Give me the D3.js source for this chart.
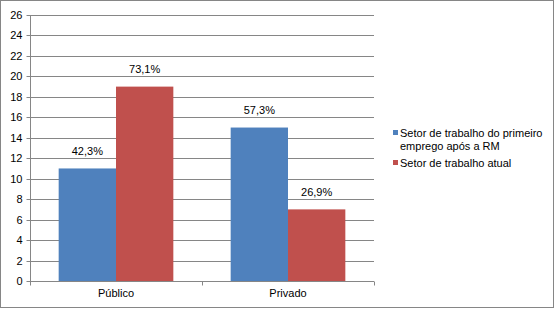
<!DOCTYPE html>
<html>
<head>
<meta charset="utf-8">
<script src="https://cdn.jsdelivr.net/npm/d3@7"></script>
<style>
  html, body { margin: 0; padding: 0; background: #fff; }
  svg { display: block; font-family: "Liberation Sans", Arial, sans-serif; }
</style>
</head>
<body>
<svg id="chart" width="555" height="309"></svg>
<script>
const categories = ["Público", "Privado"];
const seriesNames = ["Setor de trabalho do primeiro emprego após a RM", "Setor de trabalho atual"];
const seriesFirst = [11, 15];
const seriesCurrent = [19, 7];
const labelsFirst = ["42,3%", "57,3%"];
const labelsCurrent = ["73,1%", "26,9%"];
const yTicks = [0, 2, 4, 6, 8, 10, 12, 14, 16, 18, 20, 22, 24, 26];
const colors = ["#4F81BD", "#C0504D"];

(function () {
const svg = d3.select("#chart");
const W = 555, H = 309;

// outer border
svg.append("rect").attr("x", 0.5).attr("y", 0.5).attr("width", W - 2).attr("height", H - 2)
  .attr("fill", "#fff").attr("stroke", "#868686").attr("stroke-width", 1);

const pLeft = 30, pRight = 374, pTop = 15, pBottom = 281;

const x = d3.scaleBand().domain(categories).range([pLeft, pRight]).paddingInner(0).paddingOuter(0);
const y = d3.scaleLinear().domain([0, 26]).range([pBottom, pTop]);

// gridlines
svg.append("g").selectAll("line").data(yTicks.filter(d => d > 0)).join("line")
  .attr("x1", pLeft).attr("x2", pRight)
  .attr("y1", d => Math.round(y(d)) + 0.5).attr("y2", d => Math.round(y(d)) + 0.5)
  .attr("stroke", "#868686").attr("stroke-width", 1);

// y axis
const yAxis = d3.axisLeft(y).tickValues(yTicks).tickSize(4).tickPadding(4).tickFormat(d3.format("d"));
const gy = svg.append("g").attr("transform", `translate(${pLeft + 0.5},0.5)`).call(yAxis);
gy.select(".domain").attr("stroke", "#868686").attr("d", `M0,${y(26)}V${y(0)}`);
gy.selectAll(".tick line").attr("stroke", "#868686");
gy.selectAll(".tick text").attr("font-size", 11).attr("fill", "#000")
  .attr("font-family", "'Liberation Sans', Arial, sans-serif");
gy.selectAll(".tick").attr("transform", d => `translate(0,${Math.round(y(d))})`);

// bars
const inner = d3.scaleBand().domain([0, 1]).range([0, x.bandwidth()]).paddingOuter(0.5).paddingInner(0);
const data = [];
categories.forEach((c, i) => {
  data.push({ c, s: 0, v: seriesFirst[i], label: labelsFirst[i] });
  data.push({ c, s: 1, v: seriesCurrent[i], label: labelsCurrent[i] });
});
svg.append("g").selectAll("rect").data(data).join("rect")
  .attr("x", d => x(d.c) + inner(d.s))
  .attr("width", inner.bandwidth())
  .attr("y", d => y(d.v))
  .attr("height", d => y(0) - y(d.v))
  .attr("fill", d => colors[d.s]);

// value labels
svg.append("g").selectAll("text").data(data).join("text")
  .attr("x", d => x(d.c) + inner(d.s) + inner.bandwidth() / 2)
  .attr("y", d => y(d.v) - 13.5)
  .attr("text-anchor", "middle")
  .attr("font-size", 11).attr("fill", "#000")
  .text(d => d.label);

// x axis
const xAxis = d3.axisBottom(x).tickSize(0).tickPadding(8);
const gx = svg.append("g").attr("transform", `translate(0,${pBottom + 0.5})`).call(xAxis);
gx.select(".domain").attr("stroke", "#868686").attr("d", `M${pLeft},0H${pRight}`);
gx.selectAll(".tick text").attr("font-size", 11).attr("fill", "#000")
  .attr("font-family", "'Liberation Sans', Arial, sans-serif");
const bounds = [pLeft, x("Privado"), pRight];
gx.append("g").selectAll("line").data(bounds).join("line")
  .attr("x1", d => Math.round(d) + 0.5).attr("x2", d => Math.round(d) + 0.5)
  .attr("y1", 0).attr("y2", 4).attr("stroke", "#868686");

// legend
const legend = svg.append("g").attr("transform", "translate(393,0)");
const legendItems = [
  { lines: ["Setor de trabalho do primeiro", "emprego após a RM"], y: 133, color: colors[0] },
  { lines: ["Setor de trabalho atual"], y: 163, color: colors[1] }
];
legendItems.forEach(item => {
  legend.append("rect").attr("x", 0).attr("y", item.y - 3).attr("width", 5).attr("height", 5).attr("fill", item.color);
  const t = legend.append("text").attr("x", 7).attr("y", item.y + 4).attr("font-size", 11).attr("fill", "#000");
  item.lines.forEach((ln, k) => {
    t.append("tspan").attr("x", 7).attr("dy", k === 0 ? 0 : 13).text(ln);
  });
});
})();
</script>
</body>
</html>
